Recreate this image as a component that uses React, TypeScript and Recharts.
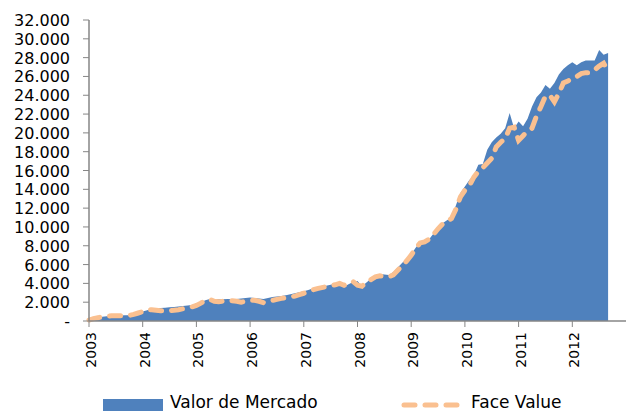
import React from 'react';
import { ComposedChart, Area, Line, XAxis, YAxis, Legend } from 'recharts';

const yearLabels = ['2003', '2004', '2005', '2006', '2007', '2008', '2009', '2010', '2011', '2012'];

// Monthly values, Jan 2003 .. Sep 2012
const valorDeMercado = [
  200, 300, 400, 450, 500, 520, 550, 580, 600, 620, 700, 800,
  1000, 1150, 1300, 1350, 1380, 1420, 1450, 1500, 1550, 1600, 1650, 1700,
  1800, 2000, 2200, 2350, 2350, 2300, 2300, 2350, 2300, 2350, 2400, 2450,
  2500, 2450, 2400, 2350, 2450, 2550, 2600, 2650, 2750, 2850, 2950, 3050,
  3150, 3300, 3450, 3550, 3650, 3750, 3850, 3950, 3900, 3650, 3900, 4150,
  4250, 3700, 4100, 4500, 4900, 5000, 4950, 4900, 5200, 5700, 6200, 6600,
  7100, 7800, 8400, 8400, 8700, 9300, 9900, 10400, 10700, 11000, 12300, 13600,
  14300, 15000, 15500, 16600, 16700, 18200, 19000, 19500, 19900, 20500, 22100, 20500,
  21200, 20700, 21500, 22800, 23800, 24300, 25100, 24700, 25300, 26200, 26800, 27200,
  27500, 27200, 27500, 27700, 27700, 27700, 28800, 28300, 28500,
];

const faceValue = [
  100, 250, 350, 450, 500, 550, 550, 550, 550, 600, 700, 850,
  1000, 1200, 1200, 1150, 1100, 1100, 1100, 1150, 1200, 1300, 1400, 1500,
  1650, 1900, 2200, 2300, 2100, 2050, 2100, 2200, 2150, 2100, 2000, 2100,
  2200, 2200, 2100, 1950, 2050, 2200, 2300, 2400, 2500, 2550, 2650, 2800,
  2950, 3100, 3300, 3450, 3550, 3650, 3750, 3850, 4000, 3800, 4000, 4200,
  3800, 3700, 4100, 4400, 4700, 4800, 4750, 4700, 4900, 5400, 5900, 6400,
  7000, 7700, 8300, 8400, 8700, 9200, 9800, 10300, 10600, 10900, 11900, 13200,
  13900, 14400, 15300, 15900, 16300, 16800, 17300, 18500, 19000, 19400, 20500, 20600,
  19200, 19700, 20200, 20500, 21800, 22800, 23900, 24000, 23300, 24200, 25300, 25500,
  25800, 26000, 26300, 26400, 26400, 26700, 27100, 27400, 26600,
];

const yTicks = [0, 2000, 4000, 6000, 8000, 10000, 12000, 14000, 16000, 18000, 20000, 22000, 24000, 26000, 28000, 30000, 32000];

const data = valorDeMercado.map((v, i) => ({ m: i, mv: v, fv: faceValue[i] }));
const xTicks = yearLabels.map((_, i) => i * 12);

const BLUE = '#4F81BD';
const PEACH = '#FAC090';
const AXIS = '#868686';
const FONT = 'DejaVu Sans';

const fmtY = (v: number) => (v === 0 ? '-' : `${Math.floor(v / 1000)}.${String(v % 1000).padStart(3, '0')}`);

const YTick = (props: any) => {
  const { x, y, payload } = props;
  return (
    <text x={x - 11} y={y} dy={6} textAnchor="end" fontSize={16} fontFamily={FONT} fill="#000">
      {fmtY(payload.value)}
    </text>
  );
};

const XTick = (props: any) => {
  const { x, y, payload } = props;
  const label = yearLabels[Math.round(payload.value / 12)];
  return (
    <text
      x={x}
      y={y + 3}
      dy={7}
      textAnchor="end"
      fontSize={14}
      fontFamily={FONT}
      fill="#000"
      transform={`rotate(-90, ${x}, ${y + 3})`}
    >
      {label}
    </text>
  );
};

const LegendContent = () => (
  <svg width={626} height={24} style={{ display: 'block', overflow: 'visible' }}>
    <rect x={103} y={11} width={60} height={12} fill={BLUE} />
    <text x={170} y={20} fontSize={17} fontFamily={FONT} fill="#000">Valor de Mercado</text>
    <line x1={404} y1={17} x2={457} y2={17} stroke={PEACH} strokeWidth={5} strokeDasharray="11 10" strokeLinecap="round" />
    <text x={471} y={20} fontSize={17} fontFamily={FONT} fill="#000">Face Value</text>
  </svg>
);

export default function App() {
  return (
    <div style={{ position: 'absolute', left: 0, top: 0, width: 626, height: 412, background: '#fff' }}>
      <ComposedChart width={626} height={412} data={data} margin={{ top: 20, right: 0, bottom: 0, left: 0 }}>
        <XAxis
          dataKey="m"
          type="number"
          domain={[0, 120]}
          ticks={xTicks}
          interval={0}
          height={91}
          tick={<XTick />}
          tickSize={6}
          stroke={AXIS}
          axisLine={{ stroke: AXIS, strokeWidth: 1.5 }}
          tickLine={{ stroke: AXIS }}
        />
        <YAxis
          type="number"
          domain={[0, 32000]}
          ticks={yTicks}
          interval={0}
          width={89}
          tick={<YTick />}
          tickSize={6}
          stroke={AXIS}
          axisLine={{ stroke: AXIS, strokeWidth: 1.5 }}
          tickLine={{ stroke: AXIS }}
        />
        <Area
          type="linear"
          dataKey="mv"
          name="Valor de Mercado"
          fill={BLUE}
          fillOpacity={1}
          stroke="none"
          isAnimationActive={false}
        />
        <Line
          type="linear"
          dataKey="fv"
          name="Face Value"
          stroke={PEACH}
          strokeWidth={5}
          strokeDasharray="11 10"
          strokeLinecap="round"
          dot={false}
          isAnimationActive={false}
        />
        <Legend
          layout="horizontal"
          verticalAlign="middle"
          align="center"
          content={<LegendContent />}
          wrapperStyle={{ position: 'absolute', top: 388, left: 0, width: 626, height: 24 }}
        />
      </ComposedChart>
    </div>
  );
}
